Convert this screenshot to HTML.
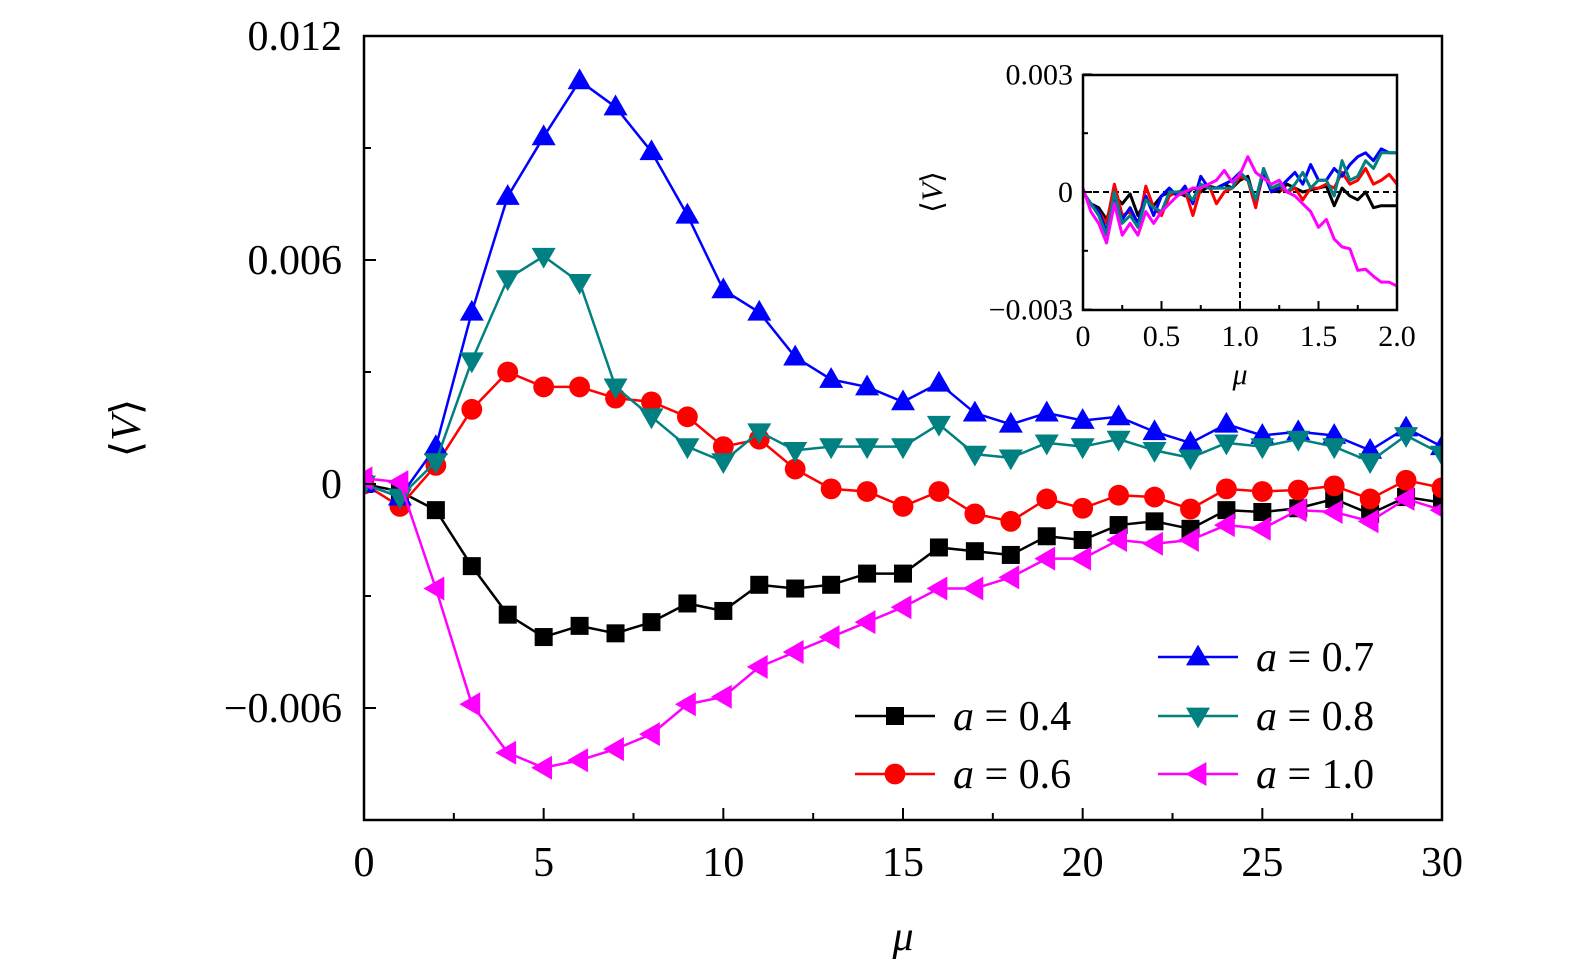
<!DOCTYPE html>
<html><head><meta charset="utf-8"><style>
html,body{margin:0;padding:0;background:#fff;overflow:hidden;width:1575px;height:974px}
svg{display:block}
text{font-family:"Liberation Serif",serif;fill:#000}
</style></head><body>
<svg id="chart" width="1575" height="974" viewBox="0 0 1575 974"></svg>
<script>
const xs = Array.from({length:31},(_,i)=>i);
const seriesNames = ['a = 0.4','a = 0.6','a = 0.7','a = 0.8','a = 1.0'];
const v04 = [0,-0.0002,-0.0007,-0.0022,-0.0035,-0.0041,-0.0038,-0.004,-0.0037,-0.0032,-0.0034,-0.0027,-0.0028,-0.0027,-0.0024,-0.0024,-0.0017,-0.0018,-0.0019,-0.0014,-0.0015,-0.0011,-0.001,-0.0012,-0.0007,-0.00075,-0.00065,-0.0004,-0.0008,-0.00035,-0.0005];
const v06 = [0,-0.0006,0.0005,0.002,0.003,0.0026,0.0026,0.0023,0.0022,0.0018,0.001,0.0012,0.0004,-0.00013,-0.0002,-0.0006,-0.0002,-0.0008,-0.001,-0.0004,-0.00065,-0.0003,-0.00035,-0.00067,-0.00013,-0.0002,-0.00016,-0.00005,-0.0004,0.0001,-0.0001];
const v07 = [0,-0.00035,0.001,0.0046,0.0077,0.0093,0.0108,0.0101,0.0089,0.0072,0.0052,0.0046,0.0034,0.0028,0.0026,0.0022,0.0027,0.0019,0.0016,0.0019,0.0017,0.0018,0.0014,0.0011,0.0016,0.0013,0.0014,0.0013,0.0009,0.0015,0.001];
const v08 = [0,-0.00035,0.0006,0.0033,0.0055,0.0061,0.0054,0.0026,0.0018,0.001,0.0006,0.0014,0.0009,0.001,0.001,0.001,0.0016,0.0008,0.0007,0.0011,0.001,0.0012,0.0009,0.0007,0.0011,0.001,0.0012,0.001,0.0006,0.0013,0.0008];
const v10 = [0.00015,0.00005,-0.0028,-0.0059,-0.0072,-0.0076,-0.0074,-0.0071,-0.0067,-0.0059,-0.0057,-0.0049,-0.0045,-0.0041,-0.0037,-0.0033,-0.0028,-0.0028,-0.0025,-0.002,-0.002,-0.0015,-0.0016,-0.0015,-0.0011,-0.0012,-0.0007,-0.00075,-0.001,-0.0004,-0.0007];
const xTicks = [0,5,10,15,20,25,30];
const yTicks = [0.012,0.006,0,-0.006];
const yTickLabels = ['0.012','0.006','0','\u22120.006'];
const insetX = Array.from({length:41},(_,i)=>i*0.05);
const in04 = [0,-0.3,-0.4,-0.7,-0.1,-0.3,-0.05,-0.6,-0.2,-0.35,-0.1,0,0,-0.1,0.1,0,0.15,0.1,0.2,0.1,0.3,0.4,-0.3,0.5,0.1,0,0.2,0.1,0,0.05,0.1,0.15,-0.35,0.1,-0.1,-0.2,0,-0.4,-0.35,-0.35,-0.35];
const in06 = [0,-0.3,-0.5,-0.8,0.2,-0.6,-0.5,-0.9,0.15,-0.4,-0.6,-0.1,0,0.05,-0.6,0.1,0.2,-0.3,0,0.1,0.4,0.3,-0.4,0.6,0.1,0.1,0,0.1,-0.2,0.1,0.1,0.2,0.1,0.5,0.2,0.3,0.6,0.2,0.3,0.45,0.2];
const in07 = [0,-0.3,-0.5,-1.0,-0.1,-0.7,-0.4,-0.8,-0.1,-0.6,-0.1,0.1,-0.1,0.15,-0.3,0.4,0.1,0.1,0.2,0.3,0.5,0.3,-0.2,0.5,0,0.1,0.3,0.5,0.2,0.7,0.3,0.3,0.6,0.4,0.7,0.9,1.0,0.8,1.1,1.0,1.0];
const in08 = [0,-0.3,-0.6,-1.1,0,-0.8,-0.6,-0.9,-0.2,-0.4,-0.5,0,0,0,-0.2,0.2,0.1,0.1,0.1,0.1,0.5,0.3,-0.2,0.6,0.1,0.2,0,0.2,0.5,0.1,0.3,0.3,-0.1,0.8,0.3,0.4,0.8,0.6,1.0,1.0,1.0];
const in10 = [0.1,-0.5,-0.8,-1.3,-0.3,-1.1,-0.8,-1.1,-0.5,-0.8,-0.5,-0.3,-0.1,0,0.1,0.1,0.2,0.3,0.55,0.25,0.45,0.9,0.5,0.35,0.2,0.3,0,-0.1,-0.3,-0.5,-0.9,-0.7,-1.2,-1.4,-1.45,-2.0,-1.97,-2.15,-2.3,-2.3,-2.4];
const insetXTicks = [0,0.5,1.0,1.5,2.0];
const insetXTickLabels = ['0','0.5','1.0','1.5','2.0'];
const insetYTicks = [3,0,-3];
const insetYTickLabels = ['0.003','0','\u22120.003'];

const NS='http://www.w3.org/2000/svg';
const svg=document.getElementById('chart');
function mk(tag,attrs,parent){const e=document.createElementNS(NS,tag);for(const k in attrs)e.setAttribute(k,attrs[k]);(parent||svg).appendChild(e);return e;}
const L=364,R=1442,T=36,B=820;
const X=v=>L+(v-0)/30*(R-L);
const Y=v=>484-(v/0.001)*37.333;

const plot=mk('g',{});


const cp=mk('clipPath',{id:'cp'});mk('rect',{x:L,y:T,width:R-L,height:B-T},cp);

function marker(g,type,x,y,color,s){
  let e;
  if(type==='square') e=mk('rect',{x:x-s*0.45,y:y-s*0.45,width:s*0.9,height:s*0.9,fill:color},g);
  else if(type==='circle') e=mk('circle',{cx:x,cy:y,r:s*0.52,fill:color},g);
  else if(type==='up') e=mk('polygon',{points:`${x},${y-s*0.62} ${x-s*0.6},${y+s*0.42} ${x+s*0.6},${y+s*0.42}`,fill:color},g);
  else if(type==='down') e=mk('polygon',{points:`${x},${y+s*0.62} ${x-s*0.6},${y-s*0.42} ${x+s*0.6},${y-s*0.42}`,fill:color},g);
  else if(type==='left') e=mk('polygon',{points:`${x-s*0.62},${y} ${x+s*0.42},${y-s*0.6} ${x+s*0.42},${y+s*0.6}`,fill:color},g);
  return e;
}
const defs=[[v04,'#000','square','series-a04'],[v06,'#f00','circle','series-a06'],[v07,'#00f','up','series-a07'],[v08,'#008080','down','series-a08'],[v10,'#f0f','left','series-a10']];
defs.forEach(([vals,c,m,name])=>{
  const g=mk('g',{'clip-path':'url(#cp)'},plot);
  
  
  mk('polyline',{points:vals.map((v,i)=>X(xs[i])+','+Y(v)).join(' '),fill:'none',stroke:c,'stroke-width':2.5},g);
  vals.forEach((v,i)=>{const p=marker(g,m,X(xs[i]),Y(v),c,20);
    
    });
});
const fr=mk('rect',{x:L,y:T,width:R-L,height:B-T,fill:'none',stroke:'#000','stroke-width':2.5});


for(let v=0;v<=30;v+=2.5){const maj=v%5===0;mk('line',{x1:X(v),x2:X(v),y1:B,y2:B-(maj?12:7),stroke:'#000','stroke-width':2});}
xTicks.forEach(v=>{const t=mk('text',{x:X(v),y:B+56,'font-size':42,'text-anchor':'middle'});t.textContent=v;
  
  });
for(let v=-0.009;v<=0.012001;v+=0.003){const maj=Math.abs(Math.round(v/0.003))%2===0;mk('line',{x1:L,x2:L+(maj?12:7),y1:Y(v),y2:Y(v),stroke:'#000','stroke-width':2});}
yTicks.forEach((v,i)=>{const t=mk('text',{x:L-22,y:Y(v)+14,'font-size':42,'text-anchor':'end'});t.textContent=yTickLabels[i];
  
  });
const xt=mk('text',{x:903,y:950,'font-size':42,'font-style':'italic','text-anchor':'middle'});xt.textContent='μ';


const yt=mk('text',{x:0,y:0,'font-size':42,'text-anchor':'middle',transform:'translate(140,428) rotate(-90)'});yt.innerHTML='⟨<tspan font-style="italic">V</tspan>⟩';



const leg=[[855,716,0],[855,774,1],[1158,657,2],[1158,716,3],[1158,774,4]];
leg.forEach(([x,y,k])=>{const [vals,c,m]=defs[k];const g=mk('g',{});
  
  
  mk('line',{x1:x,x2:x+80,y1:y,y2:y,stroke:c,'stroke-width':2.5},g);
  marker(g,m,x+40,y,c,20);
  const t=mk('text',{x:x+98,y:y+14,'font-size':42},g);
  t.innerHTML='<tspan font-style="italic">a</tspan> = '+seriesNames[k].split('= ')[1];});

const iL=1083,iR=1397,iT=75,iB=310;
const IX=v=>iL+v/2*(iR-iL);
const IY=v=>192-v*39.2;
const ig=mk('g',{});


const icp=mk('clipPath',{id:'icp'});mk('rect',{x:iL,y:iT,width:iR-iL,height:iB-iT},icp);
mk('line',{x1:iL,x2:iR,y1:IY(0),y2:IY(0),stroke:'#000','stroke-width':2,'stroke-dasharray':'6,4'},ig);
mk('line',{x1:IX(1),x2:IX(1),y1:IY(0),y2:iB,stroke:'#000','stroke-width':2,'stroke-dasharray':'6,4'},ig);
[[in04,'#000'],[in06,'#f00'],[in07,'#00f'],[in08,'#008080'],[in10,'#f0f']].forEach(([vals,c])=>{
  const g=mk('g',{'clip-path':'url(#icp)'},ig);
  
  
  mk('polyline',{points:vals.map((v,i)=>IX(insetX[i])+','+IY(v)).join(' '),fill:'none',stroke:c,'stroke-width':3,'stroke-linejoin':'round'},g);
});
mk('rect',{x:iL,y:iT,width:iR-iL,height:iB-iT,fill:'none',stroke:'#000','stroke-width':2.5},ig);
for(let v=0;v<=2.0001;v+=0.25){const maj=Math.round(v*4)%2===0;mk('line',{x1:IX(v),x2:IX(v),y1:iB,y2:iB-(maj?9:5),stroke:'#000','stroke-width':2},ig);}
for(let v=-3;v<=3;v+=1.5){mk('line',{x1:iL,x2:iL+(Math.abs(v)%3===0?9:5),y1:IY(v),y2:IY(v),stroke:'#000','stroke-width':2},ig);}
insetXTicks.forEach((v,i)=>{const t=mk('text',{x:IX(v),y:iB+36,'font-size':30,'text-anchor':'middle'},ig);t.textContent=insetXTickLabels[i];
  
  });
insetYTicks.forEach((v,i)=>{const t=mk('text',{x:iL-10,y:IY(v)+10,'font-size':30,'text-anchor':'end'},ig);t.textContent=insetYTickLabels[i];
  
  });
const ixt=mk('text',{x:1240,y:384,'font-size':30,'font-style':'italic','text-anchor':'middle'},ig);ixt.textContent='μ';


const iyt=mk('text',{x:0,y:0,'font-size':30,'text-anchor':'middle',transform:'translate(942,192) rotate(-90)'},ig);iyt.innerHTML='⟨<tspan font-style="italic">V</tspan>⟩';


</script>
</body></html>
